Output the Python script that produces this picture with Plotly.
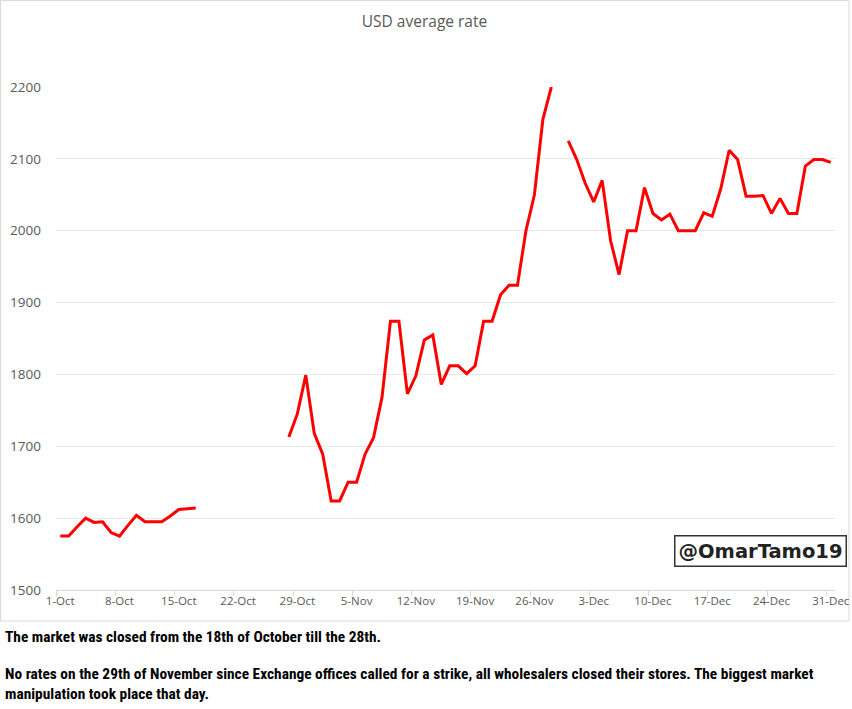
import pandas as pd
import plotly.graph_objects as go

dates = pd.date_range("2019-10-01", "2019-12-31", freq="D")

oct_part = [1575, 1575, 1588, 1600, 1594, 1595, 1580, 1575, 1590, 1604,
            1595, 1595, 1595, 1603, 1612, 1613, 1614]          # 1-Oct .. 17-Oct
closed = [None] * 10                                          # 18-Oct .. 27-Oct
mid_part = [1713, 1745, 1799, 1718, 1689, 1624, 1624, 1650, 1650, 1689,
            1712, 1768, 1874, 1874, 1773, 1798, 1848, 1855, 1786, 1812,
            1812, 1801, 1812, 1874, 1874, 1911, 1924, 1924, 2000, 2050,
            2155, 2200]                                       # 28-Oct .. 28-Nov
strike = [None]                                               # 29-Nov
dec_part = [2125, 2099, 2066, 2040, 2070, 1986, 1939, 2000, 2000, 2060,
            2024, 2015, 2023, 2000, 2000, 2000, 2025, 2020, 2058, 2112,
            2099, 2048, 2048, 2049, 2024, 2045, 2024, 2024, 2090, 2099,
            2099, 2095]                                       # 30-Nov .. 31-Dec
values = oct_part + closed + mid_part + strike + dec_part

tick_labels = ["1-Oct", "8-Oct", "15-Oct", "22-Oct", "29-Oct", "5-Nov", "12-Nov",
               "19-Nov", "26-Nov", "3-Dec", "10-Dec", "17-Dec", "24-Dec", "31-Dec"]
tick_dates = pd.date_range("2019-10-01", "2019-12-31", freq="7D")

y_ticks = [1500, 1600, 1700, 1800, 1900, 2000, 2100, 2200]

W, H = 852, 709
ML, MR, MT, MB = 56, 852 - 835, 87, 709 - 590
PW, PH = W - ML - MR, H - MT - MB

def px_x(p):
    return (p - ML) / PW

def px_y(p):
    return (H - MB - p) / PH

fig = go.Figure()
fig.add_trace(go.Scatter(
    x=dates, y=values, mode="lines",
    line=dict(color="#ff0000", width=3),
    connectgaps=False, hoverinfo="x+y", showlegend=False,
))

gray = "#595959"
fig.update_layout(
    width=W, height=H,
    margin=dict(l=ML, r=MR, t=MT, b=MB, autoexpand=False),
    paper_bgcolor="white", plot_bgcolor="white",
    font=dict(family="Open Sans, Liberation Sans, sans-serif", color=gray),
    title=dict(text="USD average rate", x=424.5 / W, xref="container", xanchor="center",
               y=1 - 21.5 / H, yref="container", yanchor="middle",
               font=dict(size=15.5, color=gray)),
    xaxis=dict(
        type="date", automargin=False,
        range=["2019-09-30 12:00", "2019-12-31 12:00"],
        tickmode="array", tickvals=list(tick_dates), ticktext=tick_labels,
        ticks="", showgrid=False, zeroline=False,
        showline=True, linecolor="#d9d9d9", linewidth=1,
        tickfont=dict(size=11.5, color=gray),
        minor=dict(tickmode="linear", tick0="2019-09-30 12:00", dtick=7 * 86400000,
                   ticks="outside", ticklen=5, tickcolor="#d9d9d9", showgrid=False),
    ),
    yaxis=dict(
        range=[1500, 2200], tickmode="array", tickvals=y_ticks, automargin=False,
        showgrid=True, gridcolor="#e8e8e8", gridwidth=1,
        zeroline=False, showline=False, ticks="",
        ticklabelstandoff=14,
        tickfont=dict(size=13.5, color=gray),
    ),
)

# chart border
fig.add_shape(type="rect", xref="paper", yref="paper",
              x0=px_x(0.5), x1=px_x(849), y0=px_y(621), y1=px_y(0.5),
              line=dict(color="#d9d9d9", width=1), fillcolor="rgba(0,0,0,0)", layer="below")

# watermark
fig.add_annotation(xref="paper", yref="paper", x=px_x(760), y=px_y(551),
                   xanchor="center", yanchor="middle", showarrow=False,
                   text="<b>@OmarTamo19</b>",
                   font=dict(family="DejaVu Sans, sans-serif", size=19.5, color="#222222"),
                   bordercolor="#333333", borderwidth=1.5, borderpad=3, bgcolor="white")

note_font = dict(family="Liberation Sans Narrow, Roboto Condensed, Roboto, sans-serif",
                 size=15.4, color="#000000")
fig.add_annotation(xref="paper", yref="paper", x=px_x(3), y=px_y(637),
                   xanchor="left", yanchor="middle", showarrow=False, align="left",
                   text="<b>The market was closed from the 18th of October till the 28th.</b>",
                   font=note_font)
fig.add_annotation(xref="paper", yref="paper", x=px_x(3), y=px_y(684),
                   xanchor="left", yanchor="middle", showarrow=False, align="left",
                   text="<b>No rates on the 29th of November since Exchange offices called for a strike, all wholesalers closed their stores. The biggest market<br>manipulation took place that day.</b>",
                   font=note_font)

fig.write_html("out.html", config={"displayModeBar": False},
               post_script="document.body.style.margin='0px';")
